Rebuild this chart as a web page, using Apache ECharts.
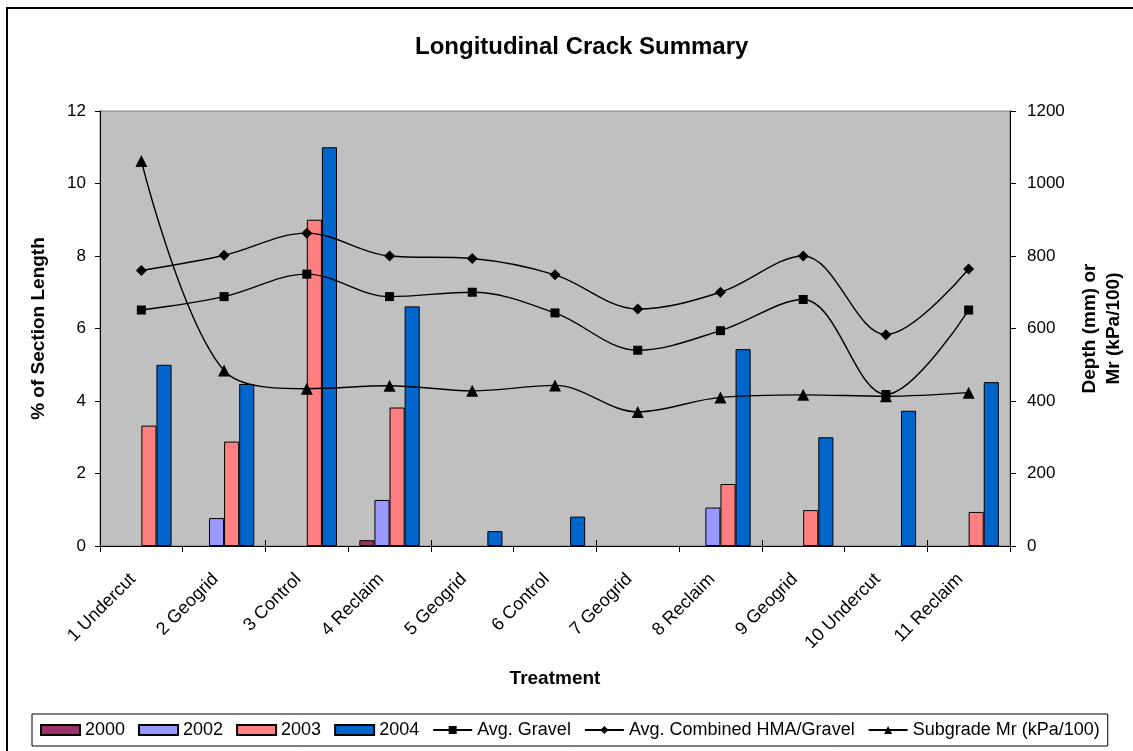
<!DOCTYPE html>
<html>
<head>
<meta charset="utf-8">
<title>Longitudinal Crack Summary</title>
<script src="https://cdn.jsdelivr.net/npm/echarts@6/dist/echarts.min.js"></script>
<style>
  html, body { margin: 0; padding: 0; background: #fff; }
  #chart { width: 1133px; height: 751px; }
</style>
</head>
<body>
<div id="chart"></div>
<script>
// treatment sections on the x axis
const categories = [
  '1 Undercut', '2 Geogrid', '3 Control', '4 Reclaim', '5 Geogrid', '6 Control',
  '7 Geogrid', '8 Reclaim', '9 Geogrid', '10 Undercut', '11 Reclaim'
];

// % of section length cracked, per survey year ('-' = no crack)
const crack2000 = ['-', '-', '-', 0.16, '-', '-', '-', '-', '-', '-', '-'];
const crack2002 = ['-', 0.77, '-', 1.27, '-', '-', '-', 1.06, '-', '-', '-'];
const crack2003 = [3.32, 2.88, 9.0, 3.82, '-', '-', '-', 1.71, 0.99, '-', 0.94];
const crack2004 = [5.0, 4.47, 11.0, 6.61, 0.41, 0.81, '-', 5.43, 3.0, 3.73, 4.52];

// right axis: depth (mm) or Mr (kPa/100)
const avgGravel = [651, 688, 750, 688, 700, 643, 540, 594, 680, 418, 651];
const avgCombined = [760, 802, 863, 800, 793, 748, 654, 700, 800, 583, 764];
const subgradeMr = [1062, 484, 434, 442, 428, 443, 370, 410, 417, 413, 423];

const font = "'Liberation Sans', Arial, sans-serif";

const chart = echarts.init(document.getElementById('chart'));

const barSeries = (name, data, color) => ({
  name,
  type: 'bar',
  data,
  yAxisIndex: 0,
  barGap: '0%',
  barCategoryGap: '27%',
  itemStyle: { color, borderColor: '#000', borderWidth: 1 }
});

const lineSeries = (name, data, symbol, size) => ({
  name,
  type: 'line',
  data,
  yAxisIndex: 1,
  smooth: 0.35,
  symbol,
  symbolSize: size,
  itemStyle: { color: '#000' },
  lineStyle: { color: '#000', width: 1.4 },
  z: 5
});

chart.setOption({
  animation: false,
  textStyle: { fontFamily: font },
  title: {
    text: 'Longitudinal Crack Summary',
    left: 410,
    top: 30,
    textStyle: { fontFamily: font, fontSize: 24, fontWeight: 'bold', color: '#000' }
  },
  graphic: [{
    type: 'rect',
    shape: { x: 7, y: 8, width: 1200, height: 800 },
    style: { fill: 'none', stroke: '#000', lineWidth: 2 },
    silent: true
  }],
  grid: {
    left: 100,
    right: 123,
    top: 111,
    bottom: 205,
    outerBoundsMode: 'none',
    show: true,
    backgroundColor: '#c0c0c0',
    borderColor: '#808080',
    borderWidth: 1
  },
  legend: {
    left: 32,
    top: 714,
    padding: [7, 8],
    borderColor: '#000',
    borderWidth: 1,
    itemWidth: 39,
    itemHeight: 10,
    itemGap: 13,
    textStyle: { fontFamily: font, fontSize: 18, color: '#000' },
    data: [
      { name: '2000', icon: 'rect' },
      { name: '2002', icon: 'rect' },
      { name: '2003', icon: 'rect' },
      { name: '2004', icon: 'rect' },
      'Avg. Gravel',
      'Avg. Combined HMA/Gravel',
      'Subgrade Mr (kPa/100)'
    ]
  },
  xAxis: [{
    type: 'category',
    data: categories,
    position: 'bottom',
    name: 'Treatment',
    nameLocation: 'middle',
    nameGap: 123,
    nameTextStyle: { fontFamily: font, fontSize: 19, fontWeight: 'bold', color: '#000' },
    axisLine: { lineStyle: { color: '#000', width: 1 } },
    axisTick: { show: true, length: 6, lineStyle: { color: '#000' } },
    axisLabel: {
      rotate: 45, margin: 22, padding: [0, 12, 0, 0],
      fontSize: 18, color: '#000', fontFamily: font
    }
  }, {
    // inside half of the crossing tick marks
    type: 'category',
    data: categories,
    position: 'bottom',
    offset: 0,
    axisLine: { show: false },
    axisTick: { show: true, inside: true, length: 6, lineStyle: { color: '#000' } },
    axisLabel: { show: false }
  }],
  yAxis: [{
    type: 'value',
    min: 0,
    max: 12,
    interval: 2,
    position: 'left',
    name: '% of Section Length',
    nameLocation: 'middle',
    nameRotate: 90,
    nameGap: 52,
    nameTextStyle: { fontFamily: font, fontSize: 19, fontWeight: 'bold', color: '#000' },
    splitLine: { show: false },
    axisLine: { show: true, lineStyle: { color: '#000' } },
    axisTick: { show: true, length: 5, lineStyle: { color: '#000' } },
    axisLabel: { fontSize: 17, margin: 14, color: '#000', fontFamily: font }
  }, {
    type: 'value',
    min: 0,
    max: 1200,
    interval: 200,
    position: 'right',
    name: 'Depth (mm) or\nMr (kPa/100)',
    nameLocation: 'middle',
    nameRotate: 90,
    nameGap: 68,
    nameTextStyle: { fontFamily: font, fontSize: 19, fontWeight: 'bold', color: '#000', lineHeight: 24 },
    splitLine: { show: false },
    axisLine: { show: true, lineStyle: { color: '#000' } },
    axisTick: { show: true, length: 6, lineStyle: { color: '#000' } },
    axisLabel: { fontSize: 17, margin: 17, color: '#000', fontFamily: font, formatter: v => String(v) }
  }],
  series: [
    barSeries('2000', crack2000, '#993366'),
    barSeries('2002', crack2002, '#9999ff'),
    barSeries('2003', crack2003, '#ff8080'),
    barSeries('2004', crack2004, '#0066cc'),
    lineSeries('Avg. Gravel', avgGravel, 'rect', 9),
    lineSeries('Avg. Combined HMA/Gravel', avgCombined, 'diamond', 11),
    lineSeries('Subgrade Mr (kPa/100)', subgradeMr, 'triangle', 12)
  ]
});
</script>
</body>
</html>
